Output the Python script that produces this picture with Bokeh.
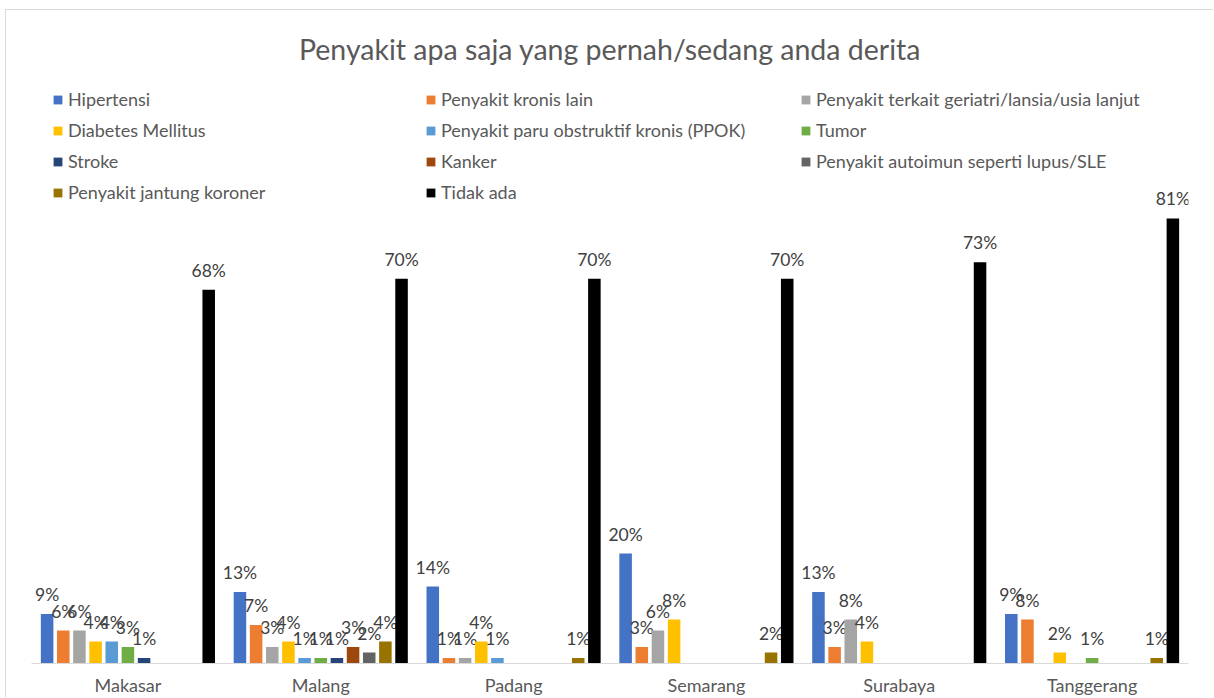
from bokeh.plotting import figure
from bokeh.models import FactorRange, Range1d, ColumnDataSource, Legend, LegendItem
from bokeh.transform import dodge
from bokeh.core.properties import value
from bokeh.embed import file_html
from bokeh.resources import INLINE

FONT = "Lato"

cities = ["Makasar", "Malang", "Padang", "Semarang", "Surabaya", "Tanggerang"]

series_names = [
    "Hipertensi",
    "Penyakit kronis lain",
    "Penyakit terkait geriatri/lansia/usia lanjut",
    "Diabetes Mellitus",
    "Penyakit paru obstruktif kronis (PPOK)",
    "Tumor",
    "Stroke",
    "Kanker",
    "Penyakit autoimun seperti lupus/SLE",
    "Penyakit jantung koroner",
    "Tidak ada",
]

hipertensi = [9, 13, 14, 20, 13, 9]
kronis_lain = [6, 7, 1, 3, 3, 8]
geriatri = [6, 3, 1, 6, 8, 0]
diabetes = [4, 4, 4, 8, 4, 2]
ppok = [4, 1, 1, 0, 0, 0]
tumor = [3, 1, 0, 0, 0, 1]
stroke = [1, 1, 0, 0, 0, 0]
kanker = [0, 3, 0, 0, 0, 0]
autoimun = [0, 2, 0, 0, 0, 0]
jantung = [0, 4, 1, 2, 0, 1]
tidak_ada = [68, 70, 70, 70, 73, 81]

series_values = [hipertensi, kronis_lain, geriatri, diabetes, ppok, tumor,
                 stroke, kanker, autoimun, jantung, tidak_ada]

colors = ["#4472C4", "#ED7D31", "#A5A5A5", "#FFC000", "#5B9BD5", "#70AD47",
          "#264478", "#9E480E", "#636363", "#997300", "#000000"]

p = figure(
    x_range=FactorRange(*cities, range_padding=0),
    y_range=Range1d(0, 107),
    width=1208, height=688,
    output_backend="svg", toolbar_location=None,
    min_border_left=25, min_border_right=26, min_border_top=65, min_border_bottom=0,
    title="Penyakit apa saja yang pernah/sedang anda derita",
)
p.styles = {
    "margin-left": "5px",
    "margin-top": "9px",
    "border-left": "1.5px solid #d9d9d9",
    "border-top": "1.5px solid #d9d9d9",
}
p.title.align = "center"
p.title.text_font = FONT
p.title.text_font_size = "28.5px"
p.title.text_font_style = "normal"
p.title.text_color = "#595959"
p.title.standoff = 19

p.outline_line_color = None
p.xgrid.grid_line_color = None
p.ygrid.grid_line_color = None
p.yaxis.visible = False
p.xaxis.axis_line_color = "#d9d9d9"
p.xaxis.axis_line_width = 1
p.xaxis.major_tick_line_color = None
p.xaxis.major_tick_out = 0
p.xaxis.major_tick_in = 0
p.xaxis.minor_tick_line_color = None
p.xaxis.minor_tick_out = 0
p.xaxis.major_label_text_font = FONT
p.xaxis.major_label_text_font_size = "18px"
p.xaxis.major_label_text_color = "#595959"
p.xaxis.major_label_standoff = 10

step = 0.0838
bar_w = 0.065
renderers = []
for i, (name, vals, col) in enumerate(zip(series_names, series_values, colors)):
    off = (i - 5) * step
    src = ColumnDataSource(dict(
        city=cities, v=vals,
        lbl=[f"{v}%" if v > 0 else "" for v in vals],
    ))
    r = p.vbar(x=dodge("city", off, range=p.x_range), top="v", width=bar_w,
               fill_color=col, line_color=None, source=src)
    p.text(x=dodge("city", off, range=p.x_range), y="v", text="lbl", source=src,
           text_align="center", text_baseline="bottom", y_offset=-9,
           text_font=value(FONT), text_font_size="17.5px", text_color="#404040")
    renderers.append(r)

frame_h = 588
row_h = 22
gap = 9
top_off = 13
columns = [([0, 3, 6, 9], 21), ([1, 4, 7, 10], 394), ([2, 5, 8], 769)]
for idxs, vx in columns:
    n = len(idxs)
    leg_h = n * row_h + (n - 1) * gap
    leg = Legend(
        items=[LegendItem(label=series_names[k], renderers=[renderers[k]]) for k in idxs],
        location=(vx, frame_h - top_off - leg_h),
        orientation="vertical",
        spacing=gap, padding=0, margin=0,
        glyph_width=11, glyph_height=11, label_standoff=5, label_height=row_h,
        label_text_font=FONT, label_text_font_size="18px", label_text_color="#595959",
        border_line_color=None, background_fill_alpha=0,
    )
    p.add_layout(leg)

open("out.html", "w").write(file_html(p, INLINE))
